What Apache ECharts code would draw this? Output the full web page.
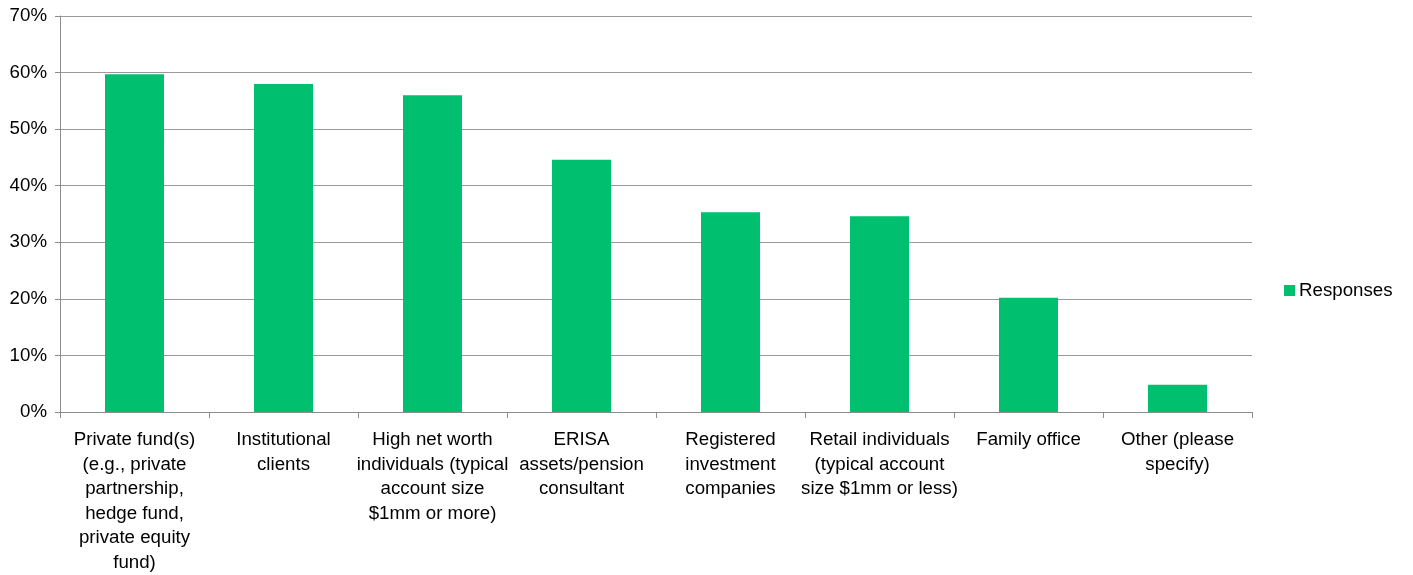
<!DOCTYPE html>
<html>
<head>
<meta charset="utf-8">
<script src="https://cdn.jsdelivr.net/npm/echarts@6/dist/echarts.min.js"></script>
<style>
  html, body { margin: 0; padding: 0; background: #fff; }
  #chart { width: 1413px; height: 575px; }
</style>
</head>
<body>
<div id="chart"></div>
<script>
// Client types served, share of responses (%)
const categories = [
  'Private fund(s)\n(e.g., private\npartnership,\nhedge fund,\nprivate equity\nfund)',
  'Institutional\nclients',
  'High net worth\nindividuals (typical\naccount size\n$1mm or more)',
  'ERISA\nassets/pension\nconsultant',
  'Registered\ninvestment\ncompanies',
  'Retail individuals\n(typical account\nsize $1mm or less)',
  'Family office',
  'Other (please\nspecify)'
];
const responses = [59.7, 58.0, 56.0, 44.6, 35.3, 34.6, 20.2, 4.8];
const seriesName = 'Responses';

const font = 'Liberation Sans, Arial, sans-serif';
const fs = 18.7;
const chart = echarts.init(document.getElementById('chart'));
chart.setOption({
  animation: false,
  backgroundColor: '#ffffff',
  textStyle: { fontFamily: font },
  grid: { left: 60, right: 161, top: 16, bottom: 159, containLabel: false },
  legend: {
    data: [seriesName],
    left: 1284,
    top: 281,
    padding: 0,
    orient: 'vertical',
    icon: 'rect',
    itemWidth: 11,
    itemHeight: 11,
    itemGap: 4,
    textStyle: { fontSize: fs, color: '#000', fontFamily: font, padding: [0, 0, 0, -1] }
  },
  xAxis: {
    type: 'category',
    data: categories,
    boundaryGap: true,
    axisLine: { show: true, lineStyle: { color: '#8c8c8c', width: 1 } },
    axisTick: { show: true, length: 6, alignWithLabel: false, lineStyle: { color: '#8c8c8c' } },
    axisLabel: {
      interval: 0,
      margin: 16,
      fontSize: fs,
      lineHeight: 24.5,
      color: '#000',
      fontFamily: font,
      align: 'center',
      verticalAlign: 'top'
    }
  },
  yAxis: {
    type: 'value',
    min: 0,
    max: 70,
    interval: 10,
    axisLine: { show: true, lineStyle: { color: '#8c8c8c', width: 1 } },
    axisTick: { show: true, length: 5, lineStyle: { color: '#8c8c8c' } },
    splitLine: { show: true, lineStyle: { color: '#9a9a9a', width: 1 } },
    axisLabel: {
      formatter: '{value}%',
      fontSize: fs,
      color: '#000',
      fontFamily: font,
      margin: 13
    }
  },
  series: [{
    name: seriesName,
    type: 'bar',
    data: responses,
    barWidth: '39.6%',
    itemStyle: { color: '#00bf6f' }
  }]
});
</script>
</body>
</html>
